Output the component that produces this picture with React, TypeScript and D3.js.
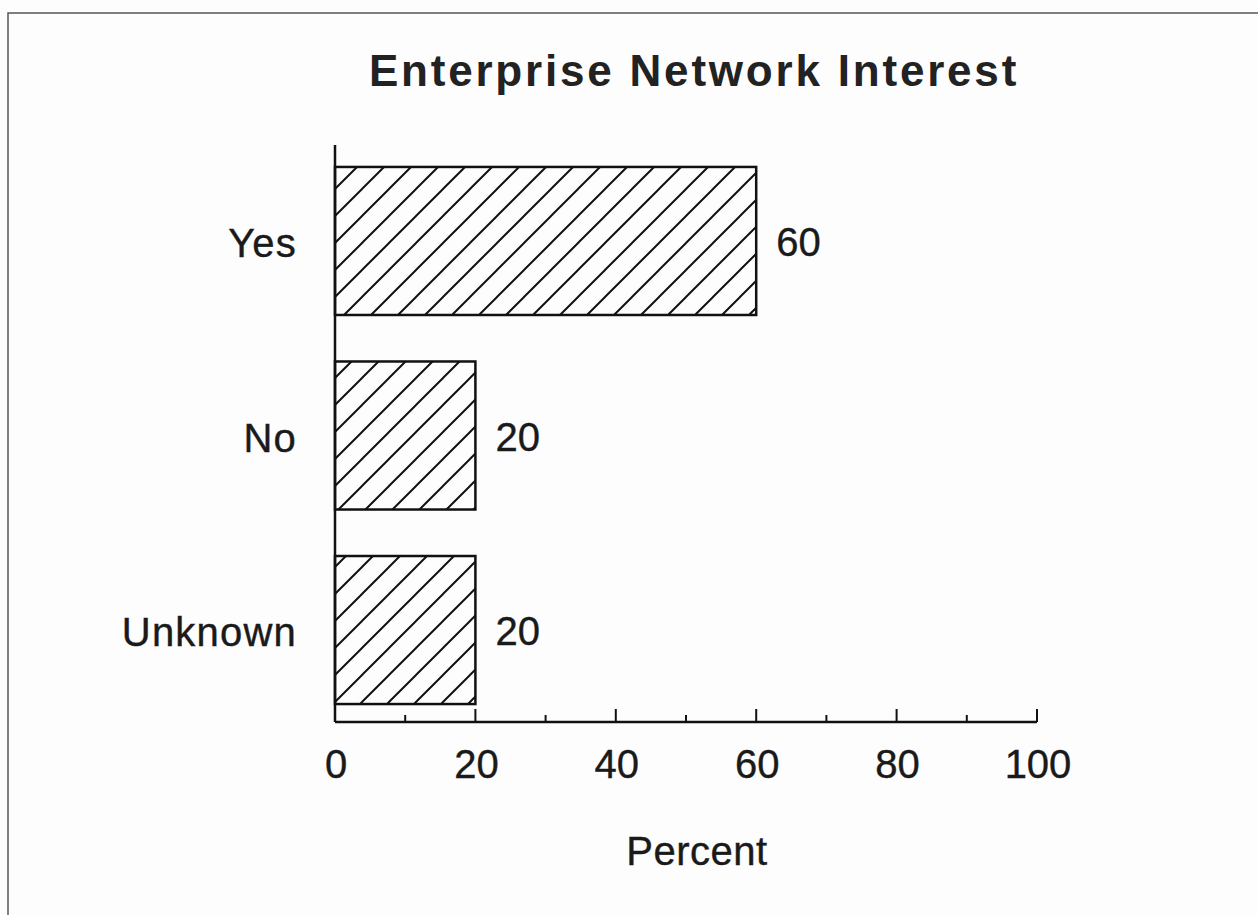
import React from "react";
import * as d3 from "d3";

const categories = ["Yes", "No", "Unknown"];
const values = [60, 20, 20];
const xTicks = [0, 20, 40, 60, 80, 100];
const minorTicks = [10, 30, 50, 70, 90];
const title = "Enterprise Network Interest";
const xLabel = "Percent";

export default function App() {
  const W = 1258, H = 915;
  const x = d3.scaleLinear().domain([0, 100]).range([335, 1037]);
  const y = d3.scaleBand().domain(categories).range([147.5, 723.5]).paddingInner(0.239).paddingOuter(0.1);
  const axisY = 722;
  const font = "'Liberation Sans', Arial, Helvetica, sans-serif";
  return (
    <svg width={W} height={H} style={{ position: "absolute", left: 0, top: 0, background: "#fdfdfd" }}>
      <defs>
        <pattern id="hatch" patternUnits="userSpaceOnUse" width={27} height={27} patternTransform="translate(335,0)">
          <path d="M-7,34 L34,-7 M-7,7 L7,-7 M20,34 L34,20" stroke="#111" strokeWidth={2} />
        </pattern>
      </defs>
      <path d={`M8,${H} L8,13 L${W},13`} fill="none" stroke="#555" strokeWidth={1.5} />
      <text x={694} y={86} textAnchor="middle" fontFamily={font} fontSize={44} fontWeight="bold" letterSpacing={2.8} fill="#222">{title}</text>
      {categories.map((c, i) => (
        <g key={c}>
          <rect x={x(0)} y={y(c)!} width={x(values[i]) - x(0)} height={y.bandwidth()} fill="url(#hatch)" stroke="#111" strokeWidth={2.5} />
          <text x={297} y={y(c)! + y.bandwidth() / 2 + 16} textAnchor="end" fontFamily={font} fontSize={40} letterSpacing={1.2} fill="#1a1a1a" stroke="#1a1a1a" strokeWidth={0.4}>{c}</text>
          <text x={x(values[i]) + 20} y={y(c)! + y.bandwidth() / 2 + 15} textAnchor="start" fontFamily={font} fontSize={40} fill="#1a1a1a" stroke="#1a1a1a" strokeWidth={0.4}>{values[i]}</text>
        </g>
      ))}
      <line x1={335} x2={335} y1={145} y2={axisY} stroke="#111" strokeWidth={2.5} />
      <line x1={335} x2={x(100)} y1={axisY} y2={axisY} stroke="#111" strokeWidth={2.5} />
      {xTicks.map((t) => (
        <g key={t}>
          <line x1={x(t)} x2={x(t)} y1={axisY} y2={axisY - 13} stroke="#111" strokeWidth={2} />
          <text x={x(t) + 1} y={778} textAnchor="middle" fontFamily={font} fontSize={40} fill="#1a1a1a" stroke="#1a1a1a" strokeWidth={0.4}>{t}</text>
        </g>
      ))}
      {minorTicks.map((t) => (
        <line key={t} x1={x(t)} x2={x(t)} y1={axisY} y2={axisY - 7} stroke="#111" strokeWidth={2} />
      ))}
      <text x={697} y={865} textAnchor="middle" fontFamily={font} fontSize={40} letterSpacing={0.5} fill="#1a1a1a" stroke="#1a1a1a" strokeWidth={0.4}>{xLabel}</text>
    </svg>
  );
}
